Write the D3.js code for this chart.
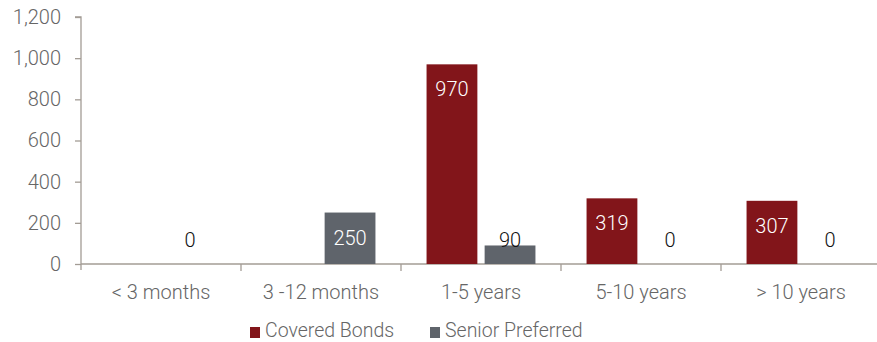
<!DOCTYPE html>
<html>
<head>
<meta charset="utf-8">
<script src="https://cdn.jsdelivr.net/npm/d3@7"></script>
<style>
  body { margin: 0; background: #fff; }
  text { font-family: Roboto, "Noto Sans", sans-serif; font-weight: 300; }
</style>
</head>
<body>
<div id="chart"></div>
<script>
// Chart data
const categories = ["< 3 months", "3 -12 months", "1-5 years", "5-10 years", "> 10 years"];
const series_names = ["Covered Bonds", "Senior Preferred"];
const covered_bonds = [null, null, 970, 319, 307];
const senior_preferred = [0, 250, 90, 0, 0];
const y_ticks = [0, 200, 400, 600, 800, 1000, 1200];

const colors = ["#82151A", "#5F646B"];
const axis_color = "#A39C95";

let width = 877, height = 342;
let margin = {top: 17, right: -4, bottom: 78, left: 81};

let svg = d3.select("#chart")
    .append("svg")
    .attr("width", width)
    .attr("height", height);

// Scales
let x = d3.scaleBand()
    .domain(categories)
    .range([margin.left, width - margin.right]);

let x_inner = d3.scaleBand()
    .domain(series_names)
    .range([0, x.bandwidth()])
    .paddingInner(0.125)
    .paddingOuter(0.44);

let y = d3.scaleLinear()
    .domain([0, 1200])
    .range([height - margin.bottom, margin.top]);

// Y axis
let y_axis = svg.append("g")
    .attr("transform", `translate(${margin.left}, 0)`)
    .call(d3.axisLeft(y).tickValues(y_ticks).tickSize(6).tickPadding(14)
        .tickFormat(d3.format(",")));
y_axis.select(".domain").attr("stroke", axis_color).attr("stroke-width", 1.3)
    .attr("d", `M-6,${y(1200)}H0V${y(0) + 6}`);
y_axis.selectAll(".tick line").attr("stroke", axis_color).attr("stroke-width", 1.3);
y_axis.selectAll(".tick text")
    .attr("fill", "#666")
    .style("font-size", "20px")
    .style("font-family", "Roboto, sans-serif")
    .style("font-weight", 300);

// X axis with ticks at category boundaries
let x_axis = svg.append("g")
    .attr("transform", `translate(0, ${y(0)})`);
x_axis.append("line")
    .attr("x1", margin.left).attr("x2", width)
    .attr("stroke", axis_color).attr("stroke-width", 1.3);
x_axis.selectAll(".boundary")
    .data(categories.slice(1))
    .enter().append("line")
    .attr("class", "boundary")
    .attr("x1", function(d) { return x(d); })
    .attr("x2", function(d) { return x(d); })
    .attr("y1", 0).attr("y2", 7)
    .attr("stroke", axis_color).attr("stroke-width", 1.3);
x_axis.selectAll(".cat")
    .data(categories)
    .enter().append("text")
    .attr("class", "cat")
    .attr("x", function(d) { return x(d) + x.bandwidth() / 2; })
    .attr("y", 35)
    .attr("text-anchor", "middle")
    .attr("fill", "#666")
    .style("font-size", "20px")
    .text(function(d) { return d; });

// Bars
let bar_data = [];
categories.forEach(function(c, i) {
    [covered_bonds, senior_preferred].forEach(function(s, j) {
        if (s[i] !== null) bar_data.push({cat: c, series: series_names[j], idx: j, value: s[i]});
    });
});

svg.append("g").selectAll("rect")
    .data(bar_data)
    .enter().append("rect")
    .attr("x", function(d) { return x(d.cat) + x_inner(d.series); })
    .attr("y", function(d) { return y(d.value); })
    .attr("width", x_inner.bandwidth())
    .attr("height", function(d) { return y(0) - y(d.value); })
    .attr("fill", function(d) { return colors[d.idx]; });

// Value labels: inside end, or sitting above axis when bar is too short
svg.append("g").selectAll("text")
    .data(bar_data)
    .enter().append("text")
    .attr("x", function(d) { return x(d.cat) + x_inner(d.series) + x_inner.bandwidth() / 2; })
    .attr("y", function(d) { return Math.min(y(d.value) + 25, y(0) - 24); })
    .attr("dy", "0.35em")
    .attr("text-anchor", "middle")
    .attr("fill", function(d) { return y(d.value) + 25 <= y(0) - 24 ? "#fff" : "#111"; })
    .style("font-size", "20px")
    .text(function(d) { return d3.format(",")(d.value); });

// Legend
let legend = svg.append("g");
let legend_x = [250, 430];
series_names.forEach(function(name, i) {
    legend.append("rect")
        .attr("x", legend_x[i]).attr("y", 327)
        .attr("width", 10).attr("height", 11)
        .attr("fill", colors[i]);
    legend.append("text")
        .attr("x", legend_x[i] + 15).attr("y", 337)
        .attr("fill", "#666")
        .style("font-size", "19.5px")
        .text(name);
});
</script>
</body>
</html>
